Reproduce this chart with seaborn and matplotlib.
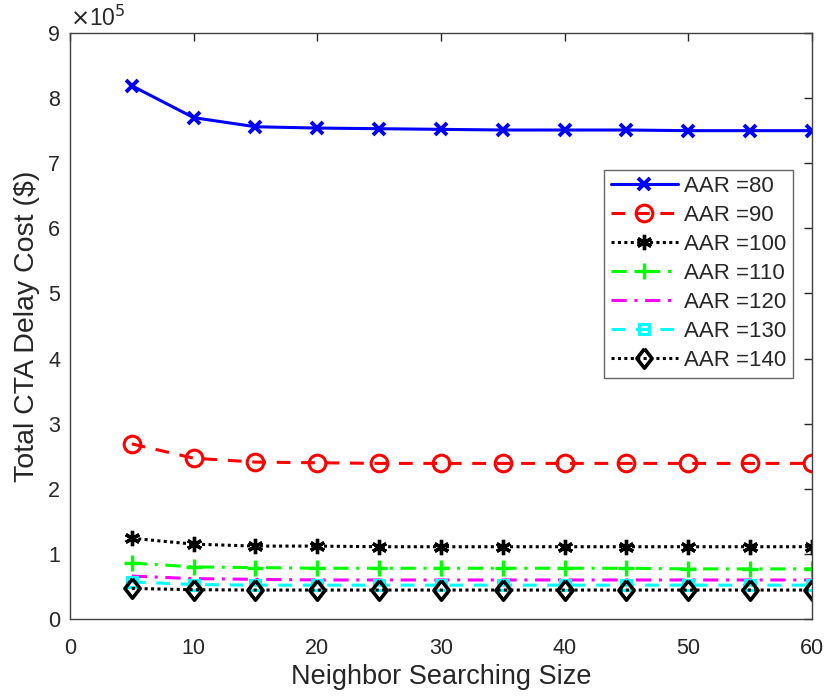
import matplotlib
matplotlib.use("Agg")
import matplotlib.pyplot as plt
import seaborn as sns
import numpy as np

# Neighbor searching size on the x axis
sizes = [5, 10, 15, 20, 25, 30, 35, 40, 45, 50, 55, 60]

# Total CTA delay cost (in units of 1e5 $) for each AAR
aar80 = [8.19, 7.70, 7.56, 7.54, 7.53, 7.52, 7.51, 7.51, 7.51, 7.50, 7.50, 7.50]
aar90 = [2.69, 2.47, 2.41, 2.40, 2.39, 2.39, 2.39, 2.39, 2.39, 2.39, 2.39, 2.39]
aar100 = [1.24, 1.15, 1.12, 1.12, 1.11, 1.11, 1.11, 1.11, 1.11, 1.11, 1.11, 1.11]
aar110 = [0.86, 0.80, 0.79, 0.78, 0.78, 0.78, 0.78, 0.78, 0.78, 0.77, 0.77, 0.77]
aar120 = [0.66, 0.62, 0.61, 0.60, 0.60, 0.60, 0.60, 0.60, 0.60, 0.60, 0.60, 0.60]
aar130 = [0.57, 0.53, 0.52, 0.52, 0.52, 0.52, 0.52, 0.52, 0.52, 0.52, 0.52, 0.52]
aar140 = [0.47, 0.45, 0.445, 0.445, 0.445, 0.445, 0.445, 0.445, 0.445, 0.445, 0.445, 0.445]

labels = ["AAR =80", "AAR =90", "AAR =100", "AAR =110", "AAR =120", "AAR =130", "AAR =140"]
series = [aar80, aar90, aar100, aar110, aar120, aar130, aar140]

# slightly tall diamond
diamond = [(0, 1), (0.78, 0), (0, -1), (-0.78, 0), (0, 1)]
dashed = (0, (4.5, 3.5))
dotted = (0, (1, 1.1))
dashdot = (0, (5, 2.5, 1, 2.5))

styles = [
    dict(color="#0000ff", linestyle="-", marker="x", mfc="#0000ff", ms=8.5, mew=2.8),
    dict(color="#ff0000", linestyle=dashed, marker="o", mfc="none", ms=12, mew=2.2),
    dict(color="#000000", linestyle=dotted, marker=(6, 2, 0), mfc="#000000", ms=11, mew=2.4),
    dict(color="#00ff00", linestyle=dashdot, marker="+", mfc="#00ff00", ms=12, mew=2.4),
    dict(color="#ff00ff", linestyle=dashdot, marker=None, mfc="none", ms=0, mew=0),
    dict(color="#00ffff", linestyle=dashed, marker="s", mfc="none", ms=7, mew=2.2),
    dict(color="#000000", linestyle=dotted, marker=diamond, mfc="none", ms=14, mew=2.6),
]

sns.set_style("white")
plt.rcParams["font.family"] = ["Liberation Sans", "DejaVu Sans"]
txt = "#262626"

fig = plt.figure(figsize=(8.25, 6.96), dpi=100)
ax = fig.add_axes([0.0848, 0.1106, 0.8994, 0.842])

for vals, lab, st in zip(series, labels, styles):
    sns.lineplot(x=sizes, y=vals, ax=ax, label=lab, color=st["color"],
                 marker=st["marker"], markerfacecolor=st["mfc"],
                 markeredgecolor=st["color"], markersize=st["ms"],
                 markeredgewidth=st["mew"], linewidth=2.2)
    ax.lines[-1].set_linestyle(st["linestyle"])

ax.set_xlim(0, 60)
ax.set_ylim(0, 9)
ax.set_xticks(np.arange(0, 61, 10))
ax.set_yticks(np.arange(0, 10, 1))
ax.tick_params(direction="in", length=6, width=1, labelsize=15.5, colors=txt,
               top=True, right=True)
ax.tick_params(axis="x", pad=13.5)
ax.tick_params(axis="y", pad=7)
for sp in ax.spines.values():
    sp.set_color("#404040")
    sp.set_linewidth(1)

ax.set_xlabel("Neighbor Searching Size", fontsize=19.5, color=txt, labelpad=4)
ax.set_ylabel("Total CTA Delay Cost ($)", fontsize=20.5, color=txt, labelpad=6)
ax.text(0.0, 1.004, r"$\times$10$^5$", transform=ax.transAxes, fontsize=16.5,
        ha="left", va="bottom", color=txt)

leg = ax.legend(loc="upper right", bbox_to_anchor=(0.975, 0.767), fontsize=16,
                frameon=True, fancybox=False, edgecolor="#404040",
                handlelength=3.0, handletextpad=0.3, labelspacing=0.36,
                borderpad=0.3, borderaxespad=0, numpoints=1)
leg.get_frame().set_linewidth(1)
for lh, st in zip(leg.get_lines(), styles):
    lh.set_linestyle(st["linestyle"])

fig.savefig("out.png", dpi=100)
